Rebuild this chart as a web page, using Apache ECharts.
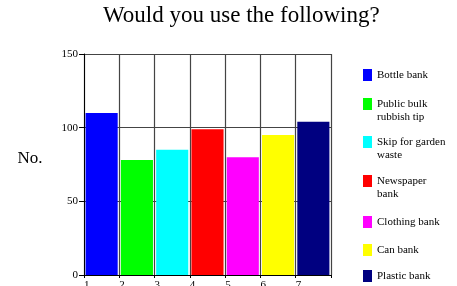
<!DOCTYPE html>
<html>
<head>
<meta charset="utf-8">
<script src="https://cdn.jsdelivr.net/npm/echarts@6/dist/echarts.min.js"></script>
<style>
  html, body { margin: 0; padding: 0; background: #fff; }
  #chart { width: 457px; height: 286px; }
</style>
</head>
<body>
<div id="chart"></div>
<script>
// data
var categories = ['1', '2', '3', '4', '5', '6', '7'];
var names = ['Bottle bank', 'Public bulk\nrubbish tip', 'Skip for garden\nwaste', 'Newspaper\nbank', 'Clothing bank', 'Can bank', 'Plastic bank'];
var values = [110, 78, 85, 99, 80, 95, 104];
var colors = ['#0000ff', '#00ff00', '#00ffff', '#ff0000', '#ff00ff', '#ffff00', '#000080'];
var yTicks = [0, 50, 100, 150];

var serif = "'Liberation Serif', 'Times New Roman', serif";
var legendTops = [68.5, 98, 136, 175, 215.5, 243.5, 269.5];

var chart = echarts.init(document.getElementById('chart'), null, { renderer: 'canvas' });

// one bar series per item, stacked so each sits alone in its slot
var series = names.map(function (name, i) {
  return {
    name: name,
    type: 'bar',
    stack: 'all',
    xAxisIndex: 0,
    barCategoryGap: '9%',
    itemStyle: { color: colors[i] },
    data: categories.map(function (c, j) { return j === i ? values[i] : '-'; })
  };
});

// one legend per item so the two-line entries keep the square on the first line
var legends = names.map(function (name, i) {
  var twoLines = name.indexOf('\n') > -1;
  return {
    left: 363,
    top: legendTops[i],
    padding: 0,
    orient: 'vertical',
    selectedMode: false,
    itemWidth: 9,
    itemHeight: twoLines ? 26 : 12,
    data: [{ name: name, icon: twoLines ? 'path://M0,0h9v12h-9z M0,26h9' : 'rect' }],
    textStyle: { fontFamily: serif, fontSize: 11, lineHeight: 13, color: '#000' }
  };
});

var option = {
  animation: false,
  backgroundColor: '#fff',
  title: {
    text: 'Would you use the following?',
    left: 103,
    top: 4,
    padding: 0,
    textStyle: { fontFamily: serif, fontSize: 23, fontWeight: 'normal', color: '#000' }
  },
  legend: legends,
  grid: { left: 84, right: 126, top: 54, bottom: 11, outerBoundsMode: 'none' },
  xAxis: [{
    type: 'category',
    data: categories,
    boundaryGap: true,
    axisLine: { lineStyle: { color: '#000', width: 1 } },
    axisTick: { show: false },
    axisLabel: { show: false },
    splitLine: { show: true, interval: 0, lineStyle: { color: '#444', width: 1.2 } }
  }, {
    type: 'value',
    position: 'bottom',
    min: 0,
    max: 7,
    interval: 1,
    axisLine: { show: false },
    axisTick: { show: true, length: 3, lineStyle: { color: '#000' } },
    splitLine: { show: false },
    axisLabel: {
      margin: 5,
      align: 'left',
      fontFamily: serif,
      fontSize: 11,
      color: '#000',
      formatter: function (v) { return categories[v] || ''; }
    }
  }],
  yAxis: {
    type: 'value',
    min: yTicks[0],
    max: yTicks[yTicks.length - 1],
    interval: 50,
    name: 'No.',
    nameLocation: 'middle',
    nameRotate: 0,
    nameGap: 54,
    nameTextStyle: { fontFamily: serif, fontSize: 17, color: '#000', align: 'center', verticalAlign: 'bottom', padding: [0, 0, -3, 0] },
    axisLine: { show: true, lineStyle: { color: '#000', width: 1 } },
    axisTick: { show: true, length: 5, lineStyle: { color: '#000' } },
    axisLabel: { margin: 6, fontFamily: serif, fontSize: 11, color: '#000' },
    splitLine: { show: true, lineStyle: { color: '#444', width: 1.2 } }
  },
  series: series
};

chart.setOption(option);
</script>
</body>
</html>
